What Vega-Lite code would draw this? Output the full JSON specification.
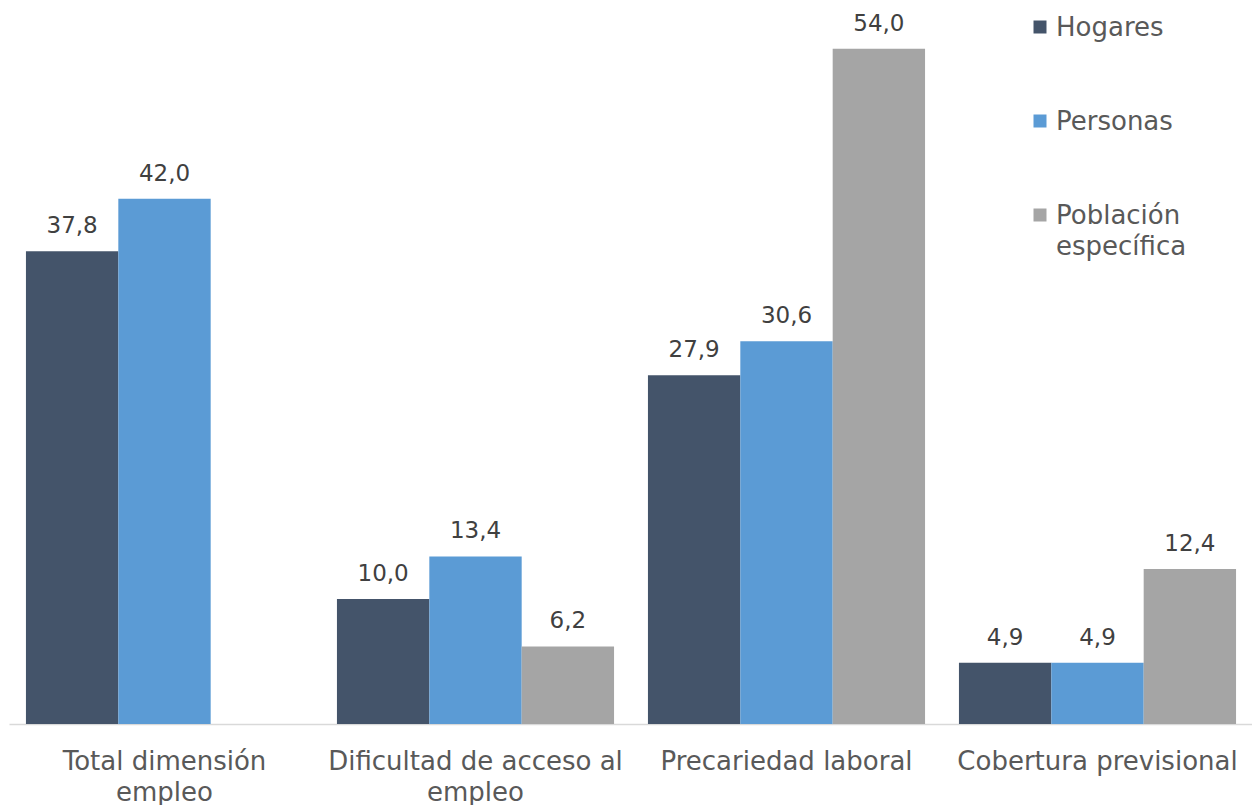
{
  "$schema": "https://vega.github.io/schema/vega-lite/v6.json",
  "width": 1244,
  "height": 724,
  "autosize": {"type": "none"},
  "padding": {"left": 9, "top": 0, "right": 0, "bottom": 81},
  "background": "white",
  "config": {
    "view": {"stroke": null},
    "font": "DejaVu Sans",
    "locale": {"number": {"decimal": ",", "thousands": ".", "grouping": [3], "currency": ["", ""]}}
  },
  "data": {
    "values": [
      {"categoria": "Total dimensión empleo", "serie": "Hogares", "valor": 37.8},
      {"categoria": "Total dimensión empleo", "serie": "Personas", "valor": 42.0},
      {"categoria": "Dificultad de acceso al empleo", "serie": "Hogares", "valor": 10.0},
      {"categoria": "Dificultad de acceso al empleo", "serie": "Personas", "valor": 13.4},
      {"categoria": "Dificultad de acceso al empleo", "serie": "Población específica", "valor": 6.2},
      {"categoria": "Precariedad laboral", "serie": "Hogares", "valor": 27.9},
      {"categoria": "Precariedad laboral", "serie": "Personas", "valor": 30.6},
      {"categoria": "Precariedad laboral", "serie": "Población específica", "valor": 54.0},
      {"categoria": "Cobertura previsional", "serie": "Hogares", "valor": 4.9},
      {"categoria": "Cobertura previsional", "serie": "Personas", "valor": 4.9},
      {"categoria": "Cobertura previsional", "serie": "Población específica", "valor": 12.4}
    ]
  },
  "encoding": {
    "x": {
      "field": "categoria",
      "type": "nominal",
      "sort": ["Total dimensión empleo", "Dificultad de acceso al empleo", "Precariedad laboral", "Cobertura previsional"],
      "scale": {"paddingInner": 0.109, "paddingOuter": 0.0545},
      "axis": {
        "title": null,
        "labelAngle": 0,
        "ticks": false,
        "tickSize": 0,
        "labelPadding": 24,
        "labelFontSize": 26,
        "labelColor": "#595959",
        "labelLineHeight": 31,
        "labelLimit": 400,
        "domainColor": "#D9D9D9",
        "domainWidth": 1.5,
        "grid": false,
        "labelExpr": "datum.label == 'Total dimensión empleo' ? ['Total dimensión', 'empleo'] : datum.label == 'Dificultad de acceso al empleo' ? ['Dificultad de acceso al', 'empleo'] : datum.label"
      }
    },
    "xOffset": {
      "field": "serie",
      "type": "nominal",
      "scale": {"domain": ["Hogares", "Personas", "Población específica"], "paddingInner": 0}
    },
    "y": {
      "field": "valor",
      "type": "quantitative",
      "scale": {"domain": [0, 57.9], "nice": false},
      "axis": null
    }
  },
  "layer": [
    {
      "mark": {"type": "bar"},
      "encoding": {
        "color": {
          "field": "serie",
          "type": "nominal",
          "scale": {"domain": ["Hogares", "Personas", "Población específica"], "range": ["#44546A", "#5B9BD5", "#A5A5A5"]},
          "legend": {
            "title": null,
            "orient": "none",
            "legendX": 1018,
            "legendY": 14,
            "direction": "vertical",
            "symbolType": "square",
            "symbolSize": 169,
            "symbolStrokeWidth": 0,
            "labelFontSize": 26,
            "labelColor": "#595959",
            "labelOffset": 3,
            "labelLimit": 300,
            "labelBaseline": "alphabetic",
            "rowPadding": 67,
            "labelExpr": "datum.label == 'Población específica' ? ['Población', 'específica'] : datum.label",
            "encode": {"labels": {"update": {"dy": {"value": 9}, "lineHeight": {"value": 31}}}}
          }
        }
      }
    },
    {
      "mark": {"type": "text", "baseline": "alphabetic", "dy": -18, "fontSize": 23, "color": "#404040"},
      "encoding": {
        "text": {"field": "valor", "type": "quantitative", "format": ".1f"}
      }
    }
  ]
}
